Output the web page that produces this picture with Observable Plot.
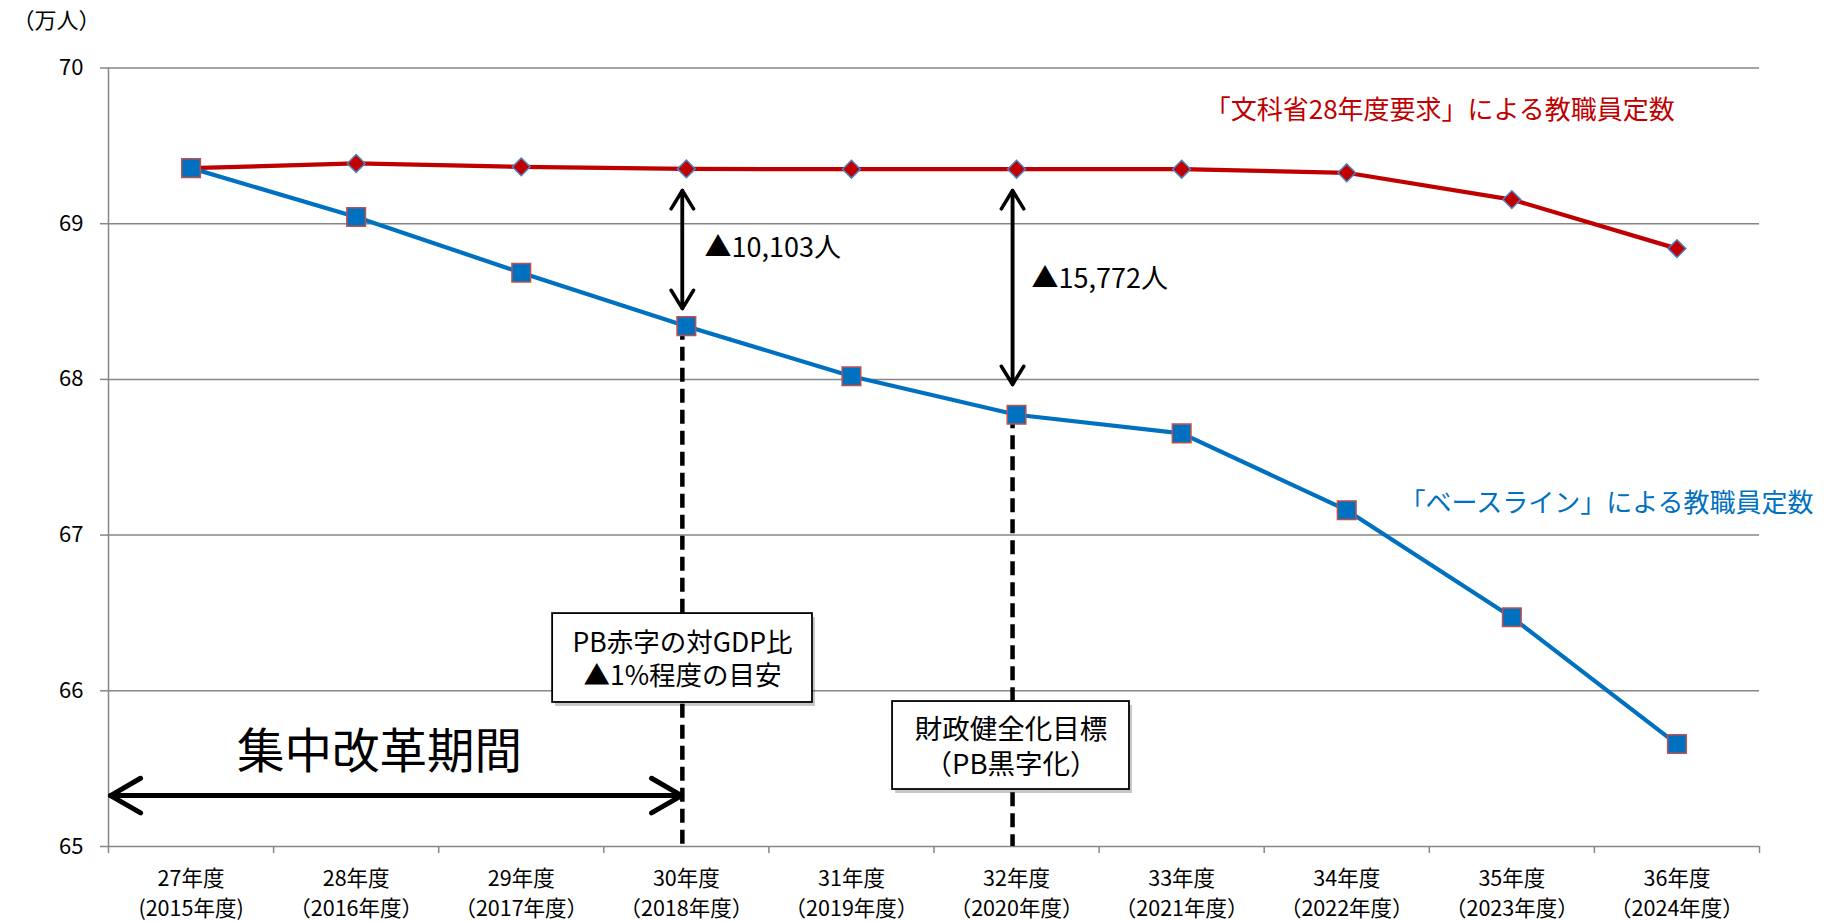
<!DOCTYPE html>
<html><head><meta charset="utf-8">
<script src="https://cdn.jsdelivr.net/npm/d3@7"></script>
<script src="https://cdn.jsdelivr.net/npm/@observablehq/plot@0.6"></script>
<style>body{margin:0;background:#fff;}</style>
</head><body><div id="chart"></div>
<script>
// categories
const fiscalYears = ["27年度","28年度","29年度","30年度","31年度","32年度","33年度","34年度","35年度","36年度"];
const calendarYears = ["(2015年度)","（2016年度）","（2017年度）","（2018年度）","（2019年度）","（2020年度）","（2021年度）","（2022年度）","（2023年度）","（2024年度）"];
// series values (万人)
const mextRequest = [69.357, 69.387, 69.365, 69.352, 69.350, 69.350, 69.350, 69.327, 69.155, 68.840];
const baseline    = [69.357, 69.043, 68.685, 68.342, 68.020, 67.773, 67.653, 67.160, 66.472, 65.658];
// tick labels
const yTicks = [65, 66, 67, 68, 69, 70];
const yUnit = "（万人）";
// series labels
const seriesNames = ["「文科省28年度要求」による教職員定数", "「ベースライン」による教職員定数"];
const seriesColors = ["#C00000", "#0070C0"];
const seriesLabelX = [6.14, 7.32];
const seriesLabelY = [69.727, 67.203];
// gap annotations
const gapIndex = [3, 5];
const gapLabels = ["▲10,103人", "▲15,772人"];
const gapArrowTop = [69.213, 69.213];
const gapArrowBottom = [68.455, 67.967];
const gapLabelX = [3.11, 5.091];
const gapLabelY = [68.841, 68.642];
// boxes
const boxLabels = ["PB赤字の対GDP比\n▲1%程度の目安", "財政健全化目標\n（PB黒字化）"];
const boxX1 = [2.19, 4.249];
const boxX2 = [3.764, 5.684];
const boxY1 = [66.496, 65.931];
const boxY2 = [65.925, 65.366];
// reform period
const periodLabel = "集中改革期間";
const periodX = [-0.4876, 2.971];
const periodY = 65.327;
const periodLabelPos = [1.142, 65.604];

const idx = d3.range(fiscalYears.length);
const red = idx.map(i => ({i, v: mextRequest[i]}));
const blue = idx.map(i => ({i, v: baseline[i]}));
const bounds = d3.range(fiscalYears.length + 1).map(k => k - 0.5);
const gaps = gapIndex.map((g, k) => ({i: g, top: gapArrowTop[k], bottom: gapArrowBottom[k], lx: gapLabelX[k], ly: gapLabelY[k], label: gapLabels[k], base: baseline[g]}));
const boxes = boxLabels.map((t, k) => ({label: t, x1: boxX1[k], x2: boxX2[k], y1: boxY1[k], y2: boxY2[k], fs: k === 0 ? 26.5 : 27.5}));
const seriesLab = seriesNames.map((t, k) => ({t, x: seriesLabelX[k], y: seriesLabelY[k], c: seriesColors[k]}));
const period = [{x1: periodX[0], x2: periodX[1], y: periodY, lx: periodLabelPos[0], ly: periodLabelPos[1], label: periodLabel}];

const arrowStyle = {stroke: "#000", strokeLinecap: "round", strokeLinejoin: "round", bend: 0};

const chart = Plot.plot({
  width: 1825, height: 922,
  marginTop: 67.5, marginBottom: 76, marginLeft: 108, marginRight: 66,
  style: {fontFamily: "'Noto Sans CJK JP', 'Noto Sans', sans-serif", fontSize: "20px", background: "#fff", color: "#000"},
  x: {type: "linear", domain: [-0.5, 9.5]},
  y: {domain: [65, 70]},
  marks: [
    Plot.gridY(yTicks, {stroke: "#868686", strokeOpacity: 1, strokeWidth: 1.5}),
    Plot.ruleX([-0.5], {stroke: "#868686", strokeWidth: 1.5}),
    Plot.axisY({ticks: yTicks, tickSize: 8, tickPadding: 17, stroke: "#868686", strokeWidth: 1.5, fontSize: 22, tickFormat: d => String(d), label: null}),
    Plot.axisX({ticks: bounds, tickSize: 7, stroke: "#868686", strokeWidth: 1.5, tickFormat: () => "", label: null}),
    Plot.axisX({ticks: idx, tickSize: 0, tickPadding: 19, tickFormat: i => fiscalYears[i] + "\n" + calendarYears[i], lineHeight: 1.36, fontSize: 21.5, label: null}),
    Plot.text([yUnit], {frameAnchor: "top-left", dx: -96, dy: -47, textAnchor: "start", lineAnchor: "middle", fontSize: 22}),
    // dashed reference lines
    Plot.ruleX(gaps, {x: "i", y1: "base", y2: 65, stroke: "#000", strokeWidth: 4.5, strokeDasharray: "14,7", dx: -4}),
    // series
    Plot.line(red, {x: "i", y: "v", stroke: seriesColors[0], strokeWidth: 4.2}),
    Plot.dot(red, {x: "i", y: "v", symbol: "diamond2", r: 8, fill: seriesColors[0], stroke: "#4F81BD", strokeWidth: 1.5}),
    Plot.line(blue, {x: "i", y: "v", stroke: seriesColors[1], strokeWidth: 4.2}),
    Plot.dot(blue, {x: "i", y: "v", symbol: "square", r: 10.5, fill: seriesColors[1], stroke: "#C0504D", strokeWidth: 1.5}),
    // series labels
    Plot.text(seriesLab, {x: "x", y: "y", text: "t", fill: "c", textAnchor: "start", fontSize: 26}),
    // gap arrows (double-headed)
    Plot.arrow(gaps, {x1: "i", x2: "i", y1: "top", y2: "bottom", strokeWidth: 3.5, headLength: 9.2, headAngle: 63, dx: -4, ...arrowStyle}),
    Plot.arrow(gaps, {x1: "i", x2: "i", y1: "bottom", y2: "top", strokeWidth: 3.5, headLength: 9.2, headAngle: 63, dx: -4, ...arrowStyle}),
    Plot.text(gaps, {x: "lx", y: "ly", text: "label", textAnchor: "start", fontSize: 27}),
    // boxes
    Plot.rect(boxes, {x1: "x1", x2: "x2", y1: "y1", y2: "y2", fill: "#000", fillOpacity: 0.22, dx: 3, dy: 4}),
    Plot.rect(boxes, {x1: "x1", x2: "x2", y1: "y1", y2: "y2", fill: "#fff", stroke: "#000", strokeWidth: 1.8}),
    Plot.text(boxes, {x: d => (d.x1 + d.x2) / 2, y: d => (d.y1 + d.y2) / 2, text: "label", fontSize: "fs", lineHeight: 1.26}),
    // reform period
    Plot.arrow(period, {x1: "x1", x2: "x2", y1: "y", y2: "y", strokeWidth: 5, headLength: 10.4, headAngle: 60, ...arrowStyle}),
    Plot.arrow(period, {x1: "x2", x2: "x1", y1: "y", y2: "y", strokeWidth: 5, headLength: 10.4, headAngle: 60, ...arrowStyle}),
    Plot.text(period, {x: "lx", y: "ly", text: "label", fontSize: 47.5})
  ]
});
document.getElementById("chart").appendChild(chart);
</script>
</body></html>
